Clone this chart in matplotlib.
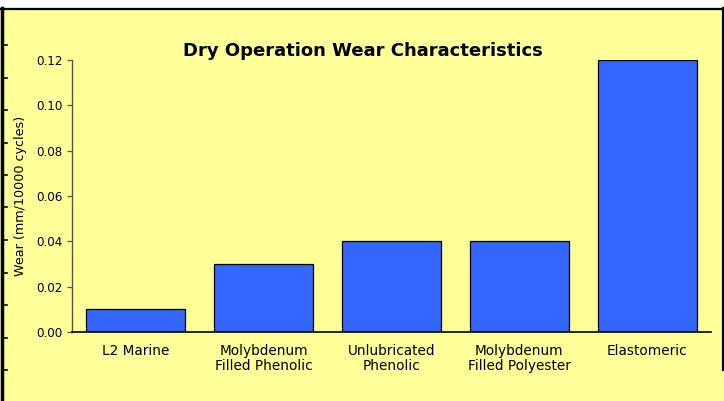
import matplotlib
matplotlib.use("Agg")
import matplotlib.pyplot as plt
from matplotlib.lines import Line2D

# ----------------------------------------------------------------------
# Data
# ----------------------------------------------------------------------
categories = [
    "L2 Marine",
    "Molybdenum\nFilled Phenolic",
    "Unlubricated\nPhenolic",
    "Molybdenum\nFilled Polyester",
    "Elastomeric",
]
wear = [0.01, 0.03, 0.04, 0.04, 0.12]
y_ticks = [0.00, 0.02, 0.04, 0.06, 0.08, 0.10, 0.12]

BG = "#FFFF99"
BAR = "#3366FF"
W, H = 724, 401

plt.rcParams["font.family"] = ["DejaVu Sans"]

fig = plt.figure(figsize=(W / 100, H / 100), dpi=100)
fig.patch.set_facecolor("white")

# yellow panel with black frame (top, left, right)
fig.patches.append(plt.Rectangle((0, 0), 1, 1 - 8 / H, transform=fig.transFigure,
                                 facecolor=BG, edgecolor="none", zorder=-5))
fig.lines.append(Line2D([0, 1], [1 - 8.5 / H] * 2, transform=fig.transFigure,
                        color="black", lw=1.6))
fig.lines.append(Line2D([1.5 / W] * 2, [0, 1 - 8 / H], transform=fig.transFigure,
                        color="black", lw=2.5))
fig.lines.append(Line2D([722.5 / W] * 2, [1 - 370 / H, 1 - 8 / H],
                        transform=fig.transFigure, color="black", lw=1.6))
# little stubs on the left edge
for yy in [45, 78, 110, 143, 175, 207, 240, 273, 305, 338, 370]:
    fig.lines.append(Line2D([2 / W, 7 / W], [1 - yy / H] * 2,
                            transform=fig.transFigure, color="black", lw=1.2))

# axes: x from 72 to 711 px, y from 60 to 332 px
ax = fig.add_axes([72 / W, 1 - 332 / H, 639 / W, 272 / H])
ax.set_zorder(2)
ax.set_facecolor("none")

ax.bar(range(len(categories)), wear, width=0.776, color=BAR,
       edgecolor="black", linewidth=0.9, zorder=2)

ax.set_xlim(-0.5, len(categories) - 0.5)
ax.set_ylim(0, 0.12)
ax.set_yticks(y_ticks)
ax.set_yticklabels([f"{v:.2f}" for v in y_ticks], fontsize=8.6)
ax.set_xticks(range(len(categories)))
ax.set_xticklabels(categories, fontsize=9.8, linespacing=1.1)
ax.tick_params(axis="x", length=0, pad=8.5)
ax.tick_params(axis="y", length=3.6, width=0.9, color="#555555", pad=3.4)

for side in ["top", "right"]:
    ax.spines[side].set_visible(False)
ax.spines["left"].set_color("#555555")
ax.spines["left"].set_linewidth(1.0)
ax.spines["bottom"].set_color("black")
ax.spines["bottom"].set_linewidth(1.2)

ax.set_ylabel("Wear (mm/10000 cycles)", fontsize=9.2)
ax.yaxis.set_label_coords(-45 / 639, 0.5)

fig.text(363 / W, 1 - 51 / H, "Dry Operation Wear Characteristics",
         ha="center", va="center", fontsize=13, fontweight="bold")

fig.savefig("out.png", dpi=100, facecolor=fig.get_facecolor())
